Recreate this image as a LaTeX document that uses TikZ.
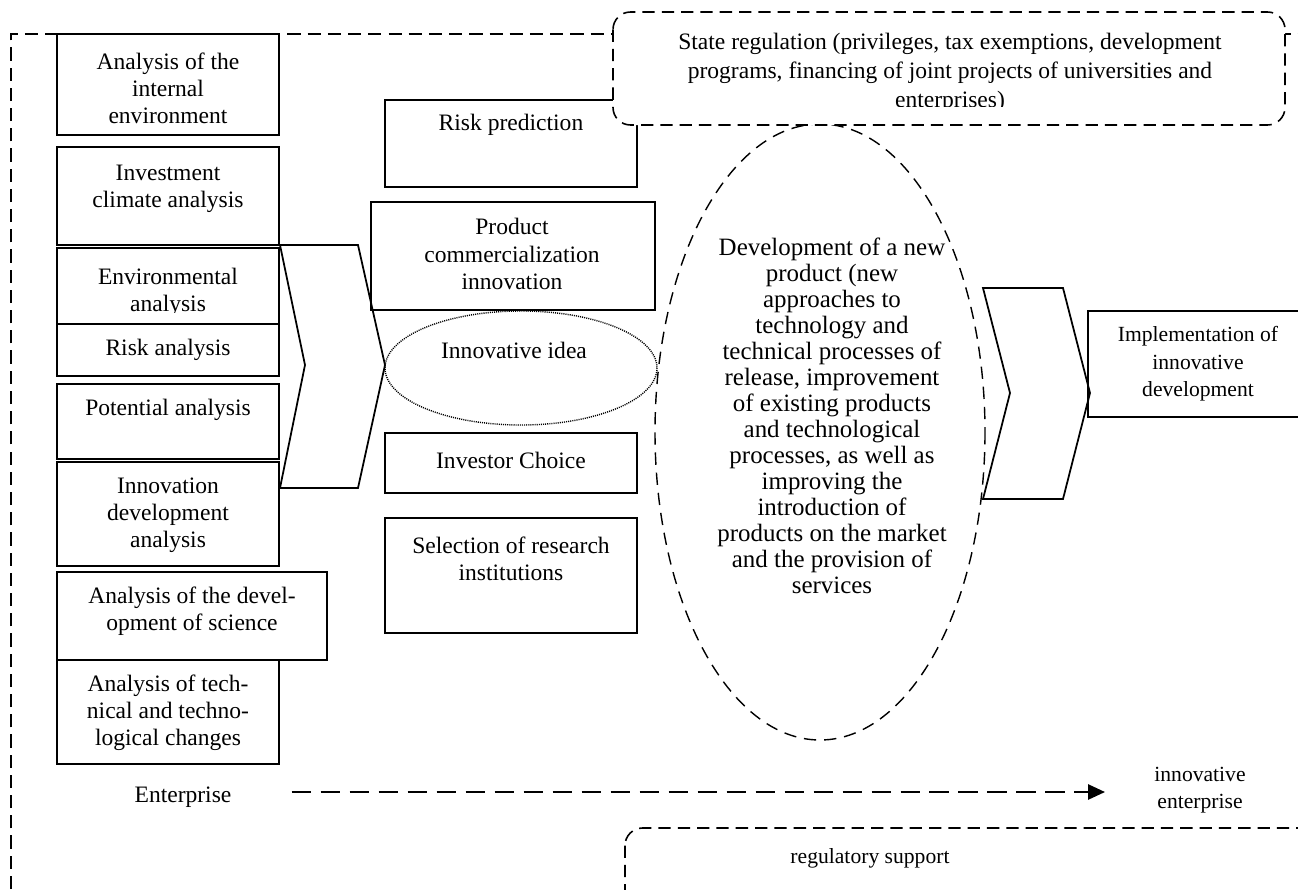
\documentclass[tikz,border=0pt]{standalone}
\usepackage{fontspec}
\setmainfont{Liberation Serif}
\usetikzlibrary{arrows.meta}

\begin{document}
\begin{tikzpicture}[x=0.02cm, y=-0.02cm,
	box/.style={draw, line width=1pt},
	frameline/.style={line width=0.9pt, dash pattern=on 7.5pt off 4pt},
	regbox/.style={line width=0.9pt, dash pattern=on 7pt off 4pt, rounded corners=0.35cm},
	ovaldash/.style={line width=0.8pt, dash pattern=on 7pt off 4.5pt},
	ideadots/.style={line width=0.8pt, dash pattern=on 0.6pt off 0.6pt},
	flow/.style={line width=1.5pt, dash pattern=on 11pt off 5.5pt, -{Triangle[length=0.34cm, width=0.3cm]}},
	txt/.style={align=center, inner sep=0pt, font=\fontsize{13.4}{15.4}\selectfont},
	smalltxt/.style={align=center, inner sep=0pt, font=\fontsize{12.3}{15.6}\selectfont},
	ovaltxt/.style={align=center, inner sep=0pt, font=\fontsize{14.2}{14.8}\selectfont},
	statetxt/.style={align=center, inner sep=0pt, font=\fontsize{13.4}{16.5}\selectfont}]
	\useasboundingbox (0,0) rectangle (1298,889);
	\clip (0,0) rectangle (1298,889);
	
	% enterprise frame
	\draw[frameline] (11,889) -- (11,34) -- (1298,34);
	
	% analysis column
	\draw[box] (57,34) rectangle (279,135);
	\node[txt] (intenv) at (168,88) {Analysis of the\\internal\\environment};
	\draw[box] (57,147) rectangle (279,245);
	\node[txt] (invclim) at (168,189) {Investment\\climate analysis};
	\draw[box] (57,248) rectangle (279,324);
	\begin{scope}
		\clip (57,248) rectangle (279,312);
		\node[txt] (envan) at (168,292) {Environmental\\analysis};
	\end{scope}
	\draw[box] (57,324) rectangle (279,376);
	\node[txt] (riskan) at (168,350) {Risk analysis};
	\draw[box] (57,384) rectangle (279,459);
	\node[txt] (potan) at (168,410) {Potential analysis};
	\draw[box] (57,462) rectangle (279,566);
	\node[txt] (innovan) at (168,515) {Innovation\\development\\analysis};
	\draw[box] (57,572) rectangle (327,660);
	\node[txt] (scian) at (192,611) {Analysis of the devel-\\opment of science};
	\draw[box] (57,660) rectangle (279,764);
	\node[txt] (techan) at (168,713) {Analysis of tech-\\nical and techno-\\logical changes};
	
	\draw[box] (280,245) -- (358,245) -- (385,365) -- (358,488) -- (280,488) -- (305,365) -- cycle;
	
	% middle column
	\draw[box] (385,100) rectangle (637,187);
	\node[txt] (riskpred) at (511,125) {Risk prediction};
	\draw[box] (371,202) rectangle (655,310);
	\node[txt] (prodcom) at (512,254) {Product\\commercialization\\innovation};
	\draw[ideadots] (521,368) ellipse [x radius=136, y radius=57];
	\node[txt] (idea) at (514,350) {Innovative idea};
	\draw[box] (385,433) rectangle (637,493);
	\node[txt] (investor) at (511,460) {Investor Choice};
	\draw[box] (385,518) rectangle (637,633);
	\node[txt] (research) at (511,559) {Selection of research\\institutions};
	
	% new product
	\draw[ovaldash] (820,432) ellipse [x radius=165, y radius=308];
	\node[ovaltxt] (newprod) at (832,416) {Development of a new\\product (new\\approaches to\\technology and\\technical processes of\\release, improvement\\of existing products\\and technological\\processes, as well as\\improving the\\introduction of\\products on the market\\and the provision of\\services};
	
	\draw[box] (983,288) -- (1063,288) -- (1090,393) -- (1063,499) -- (983,499) -- (1010,393) -- cycle;
	\draw[box] (1088,311) rectangle (1300,417);
	\node[smalltxt] (implement) at (1198,364) {Implementation of\\innovative\\development};
	
	% state regulation
	\draw[regbox, fill=white] (613,12) rectangle (1285,125);
	\begin{scope}
		\clip (613,12) rectangle (1285,106);
		\node[statetxt] (statereg) at (950,73) {State regulation (privileges, tax exemptions, development\\programs, financing of joint projects of universities and\\enterprises)};
	\end{scope}
	
	% bottom
	\node[txt] (ent) at (183,797) {Enterprise};
	\node[smalltxt] (innoent) at (1200,790) {innovative\\enterprise};
	\draw[flow, shorten <=1.2cm, shorten >=0.98cm] ([yshift=0.1cm]ent.east) -- ([yshift=0.1cm]ent.east -| innoent.west);
	
	\draw[regbox] (625,828) rectangle (1320,920);
	\node[smalltxt] (regsup) at (870,858) {regulatory support};
\end{tikzpicture}
\end{document}
